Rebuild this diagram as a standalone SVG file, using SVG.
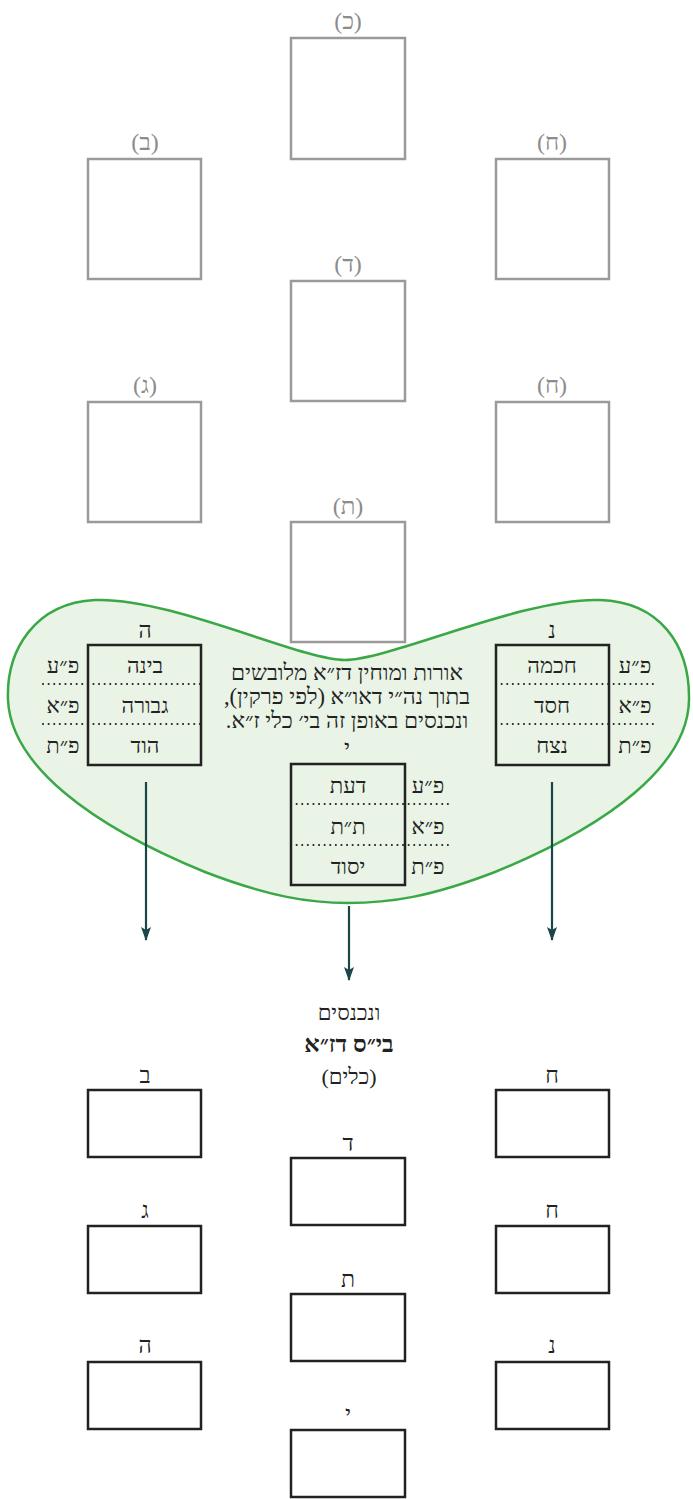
<svg xmlns="http://www.w3.org/2000/svg" width="693" height="1499" viewBox="0 0 693 1499">
<style>
text{font-family:"Liberation Serif","DejaVu Serif",serif;text-anchor:middle;direction:rtl}
.gl{font-size:24px;fill:#8c8c8c}
.gb{fill:#fff;stroke:#9a9a9a;stroke-width:2.5}
.bb{fill:#fff;stroke:#222;stroke-width:2.5}
.tb{fill:none;stroke:#222;stroke-width:2.5}
.t{font-size:22px;fill:#222}
.ti{font-size:23px;fill:#222}
.c{font-size:22.5px;fill:#222}
.dot{stroke:#222;stroke-width:2;stroke-dasharray:0.1 5.5;stroke-linecap:round}
.ar{stroke:#1c4548;stroke-width:2.2;fill:none;marker-end:url(#ah)}
</style>
<defs>
<marker id="ah" markerWidth="14" markerHeight="10" refX="13" refY="5" orient="auto" markerUnits="userSpaceOnUse" viewBox="0 0 14 10">
<path d="M0,0 L14,5 L0,10 L3,5 Z" fill="#1c4548"/>
</marker>
</defs>
<g id="top-keter"><rect class="gb" x="291" y="38" width="114" height="121"/><text class="gl" x="348" y="29">(כ)</text></g>
<g id="top-bina"><rect class="gb" x="88" y="159" width="113" height="120"/><text class="gl" x="145" y="150">(ב)</text></g>
<g id="top-chochma"><rect class="gb" x="496" y="159" width="113" height="120"/><text class="gl" x="552" y="150">(ח)</text></g>
<g id="top-daat"><rect class="gb" x="291" y="281" width="114" height="120"/><text class="gl" x="348" y="272">(ד)</text></g>
<g id="top-gevura"><rect class="gb" x="88" y="402" width="113" height="120"/><text class="gl" x="145" y="393">(ג)</text></g>
<g id="top-chesed"><rect class="gb" x="496" y="402" width="113" height="120"/><text class="gl" x="552" y="393">(ח)</text></g>
<g id="top-tiferet"><rect class="gb" x="291" y="522" width="114" height="120"/><text class="gl" x="348" y="514">(ת)</text></g>

<g id="blob">
<path d="M345,660 C300,660 170,597 95,600 C35,603 6,650 8,700 C11,765 90,825 205,872 C270,897 310,903 348,903 C390,903 430,897 495,872 C610,825 688,765 689,700 C690,645 660,602 600,600 C525,597 390,660 345,660 Z" fill="#e9f3e6" stroke="#3ba847" stroke-width="2.5"/>
<text class="c" x="347" y="680">אורות ומוחין דז״א מלובשים</text>
<text class="c" x="347" y="704">בתוך נה״י דאו״א (לפי פרקין),</text>
<text class="c" x="347" y="728">ונכנסים באופן זה בי׳ כלי ז״א.</text>
</g>

<g id="table-left">
<text class="ti" x="145" y="638">ה</text>
<rect class="tb" x="88" y="645" width="113" height="120"/>
<line class="dot" x1="43" y1="684" x2="201" y2="684"/>
<line class="dot" x1="43" y1="724" x2="201" y2="724"/>
<text class="t" x="145" y="673">בינה</text>
<text class="t" x="145" y="713">גבורה</text>
<text class="t" x="145" y="753">הוד</text>
<text class="t" x="63" y="673">פ״ע</text>
<text class="t" x="63" y="713">פ״א</text>
<text class="t" x="63" y="753">פ״ת</text>
</g>

<g id="table-right">
<text class="ti" x="552" y="638">נ</text>
<rect class="tb" x="496" y="645" width="113" height="120"/>
<line class="dot" x1="496" y1="684" x2="655" y2="684"/>
<line class="dot" x1="496" y1="724" x2="655" y2="724"/>
<text class="t" x="552" y="673">חכמה</text>
<text class="t" x="552" y="713">חסד</text>
<text class="t" x="552" y="753">נצח</text>
<text class="t" x="635" y="673">פ״ע</text>
<text class="t" x="635" y="713">פ״א</text>
<text class="t" x="635" y="753">פ״ת</text>
</g>

<g id="table-middle">
<text class="ti" x="347" y="756">י</text>
<rect class="tb" x="291" y="764" width="114" height="121"/>
<line class="dot" x1="291" y1="804" x2="452" y2="804"/>
<line class="dot" x1="291" y1="845" x2="452" y2="845"/>
<text class="t" x="348" y="793">דעת</text>
<text class="t" x="348" y="834">ת״ת</text>
<text class="t" x="348" y="874">יסוד</text>
<text class="t" x="428" y="793">פ״ע</text>
<text class="t" x="428" y="834">פ״א</text>
<text class="t" x="428" y="874">פ״ת</text>
</g>

<g id="connectors">
<line class="ar" x1="146" y1="782" x2="146" y2="940"/>
<line class="ar" x1="552" y1="782" x2="552" y2="940"/>
<line class="ar" x1="349" y1="906" x2="349" y2="980"/>
</g>

<g id="caption">
<text class="t" x="349" y="1020">ונכנסים</text>
<text x="349" y="1052" font-size="24" font-weight="bold" fill="#222">בי״ס דז״א</text>
<text class="t" x="349" y="1084">(כלים)</text>
</g>

<g id="b-bina"><text class="ti" x="145" y="1083">ב</text><rect class="bb" x="88" y="1090" width="113" height="67"/></g>
<g id="b-gevura"><text class="ti" x="145" y="1218">ג</text><rect class="bb" x="88" y="1226" width="113" height="67"/></g>
<g id="b-hod"><text class="ti" x="145" y="1353">ה</text><rect class="bb" x="88" y="1362" width="113" height="67"/></g>
<g id="b-daat"><text class="ti" x="348" y="1151">ד</text><rect class="bb" x="291" y="1158" width="114" height="67"/></g>
<g id="b-tiferet"><text class="ti" x="348" y="1287">ת</text><rect class="bb" x="291" y="1294" width="114" height="67"/></g>
<g id="b-yesod"><text class="ti" x="348" y="1422">י</text><rect class="bb" x="291" y="1430" width="114" height="67"/></g>
<g id="b-chochma"><text class="ti" x="552" y="1083">ח</text><rect class="bb" x="496" y="1090" width="113" height="67"/></g>
<g id="b-chesed"><text class="ti" x="552" y="1218">ח</text><rect class="bb" x="496" y="1226" width="113" height="67"/></g>
<g id="b-netzach"><text class="ti" x="552" y="1353">נ</text><rect class="bb" x="496" y="1362" width="113" height="67"/></g>
</svg>
